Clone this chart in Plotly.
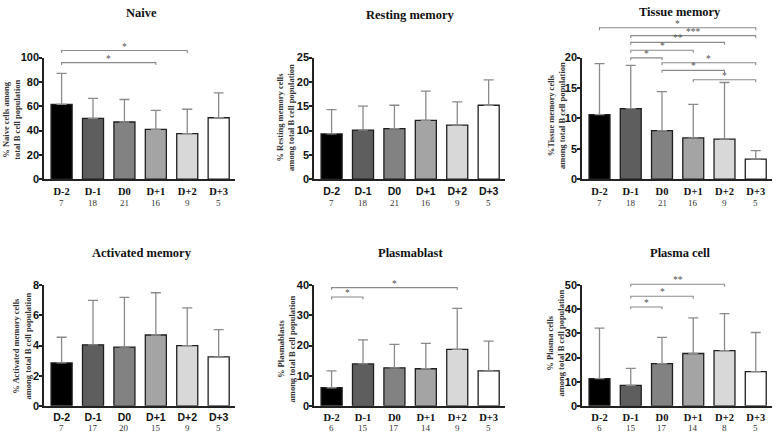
import plotly.graph_objects as go

# ---------------- data ----------------
categories = ["D-2", "D-1", "D0", "D+1", "D+2", "D+3"]

naive_mean = [61.5, 50.0, 47.0, 41.0, 37.5, 50.5]
naive_sd = [25.5, 16.5, 18.5, 15.5, 20.0, 20.5]
naive_n = [7, 18, 21, 16, 9, 5]

resting_mean = [9.3, 10.1, 10.4, 12.1, 11.1, 15.2]
resting_sd = [5.0, 4.9, 4.8, 6.0, 4.8, 5.2]
resting_n = [7, 18, 21, 16, 9, 5]

tissue_mean = [10.6, 11.6, 8.0, 6.8, 6.6, 3.3]
tissue_sd = [8.4, 7.1, 6.4, 5.5, 9.3, 1.4]
tissue_n = [7, 18, 21, 16, 9, 5]

activated_mean = [2.85, 4.05, 3.9, 4.7, 4.0, 3.25]
activated_sd = [1.7, 2.95, 3.3, 2.8, 2.5, 1.8]
activated_n = [7, 17, 20, 15, 9, 5]

plasmablast_mean = [6.0, 13.9, 12.6, 12.3, 18.7, 11.6]
plasmablast_sd = [5.6, 8.0, 7.8, 8.4, 13.6, 9.9]
plasmablast_n = [6, 15, 17, 14, 9, 5]

plasma_mean = [11.3, 8.5, 17.5, 21.7, 22.9, 14.2]
plasma_sd = [20.9, 7.0, 10.9, 14.8, 15.3, 16.2]
plasma_n = [6, 15, 17, 14, 8, 5]

# significance comparisons: (group a, group b, label)
naive_sig = [(0, 3, "*"), (0, 4, "*")]
tissue_sig = [(0, 5, "*"), (1, 5, "***"), (1, 4, "**"), (1, 3, "*"),
              (1, 2, "*"), (2, 5, "*"), (2, 4, "*"), (3, 5, "*")]
plasmablast_sig = [(0, 4, "*"), (0, 1, "*")]
plasma_sig = [(1, 4, "**"), (1, 3, "*"), (1, 2, "*")]

# ---------------- styling / layout config ----------------
bar_colors = ["#000000", "#5e5e5e", "#828282", "#a4a4a4", "#d8d8d8", "#ffffff"]
W, H = 778, 443
SERIF = "Liberation Serif"
SANS = "Liberation Sans"

cols = [(44, 235), (314, 505), (582, 772)]
rows = [(53, 178), (287, 411)]

panels = [
    dict(title="Naive", ytitle="% Naive cells among<br>total B cell population",
         mean=naive_mean, sd=naive_sd, n=naive_n, ymax=100, dtick=20,
         sig=naive_sig, levels=[95.8, 105.8], xfont=SERIF,
         title_pos=(141, 7), ytitle_pos=(12, 117)),
    dict(title="Resting memory", ytitle="% Resting memory cells<br>among total B cell population",
         mean=resting_mean, sd=resting_sd, n=resting_n, ymax=25, dtick=5,
         sig=[], levels=[], xfont=SANS,
         title_pos=(410, 9), ytitle_pos=(286, 115)),
    dict(title="Tissue memory", ytitle="%Tissue memory cells<br>among total B cell population",
         mean=tissue_mean, sd=tissue_sd, n=tissue_n, ymax=20, dtick=5,
         sig=tissue_sig, levels=[24.9, 23.6, 22.5, 21.2, 19.95, 19.15, 17.9, 16.35],
         xfont=SERIF, title_pos=(680, 6), ytitle_pos=(557, 113)),
    dict(title="Activated memory", ytitle="% Activated memory cells<br>among total B cell population",
         mean=activated_mean, sd=activated_sd, n=activated_n, ymax=8, dtick=2,
         sig=[], levels=[], xfont=SANS,
         title_pos=(142, 254), ytitle_pos=(22, 350)),
    dict(title="Plasmablast", ytitle="% Plasmablasts<br>among total B cell population",
         mean=plasmablast_mean, sd=plasmablast_sd, n=plasmablast_n, ymax=40, dtick=10,
         sig=plasmablast_sig, levels=[39.2, 36.1], xfont=SERIF,
         title_pos=(410, 254), ytitle_pos=(286, 353)),
    dict(title="Plasma cell", ytitle="% Plasma cells<br>among total B cell population",
         mean=plasma_mean, sd=plasma_sd, n=plasma_n, ymax=50, dtick=10,
         sig=plasma_sig, levels=[50.4, 45.4, 41.0], xfont=SERIF,
         title_pos=(680, 254), ytitle_pos=(556, 347)),
]

fig = go.Figure()
shapes = []
annotations = []
layout_axes = {}
xpos = list(range(len(categories)))

for k, p in enumerate(panels):
    idx = k + 1
    sfx = "" if idx == 1 else str(idx)
    r, c = divmod(k, 3)
    x0, x1 = cols[c]
    ytop, ybot = rows[r]
    xdom = [x0 / W, x1 / W]
    ydom = [1 - ybot / H, 1 - ytop / H]

    fig.add_trace(go.Bar(
        x=xpos, y=p["mean"], width=0.67,
        marker=dict(color=bar_colors, line=dict(color="#1e1e1e", width=1.3)),
        error_y=dict(type="data", array=p["sd"], arrayminus=[0] * 6, symmetric=False,
                     color="#8a8a8a", thickness=1.3, width=5),
        xaxis="x" + sfx, yaxis="y" + sfx, showlegend=False, hoverinfo="y",
    ))

    layout_axes["xaxis" + sfx] = dict(
        domain=xdom, anchor="y" + sfx, range=[-0.56, 5.52],
        tickmode="array", tickvals=xpos, ticktext=categories,
        showline=True, linecolor="#222", linewidth=1.5, ticks="",
        showgrid=False, zeroline=False, ticklabelstandoff=1,
        tickfont=dict(family=p["xfont"], size=10.5, color="#111", weight="bold"),
    )
    layout_axes["yaxis" + sfx] = dict(
        domain=ydom, anchor="x" + sfx, range=[0, p["ymax"]],
        tickmode="linear", tick0=0, dtick=p["dtick"],
        showline=True, linecolor="#222", linewidth=1.5, ticks="outside",
        ticklen=3, tickwidth=1.5, tickcolor="#222", ticklabelstandoff=-2,
        showgrid=False, zeroline=False,
        tickfont=dict(family=SANS, size=11, color="#111", weight="bold"),
    )

    # n labels
    ny = 202 if r == 0 else 434
    for i, nv in enumerate(p["n"]):
        annotations.append(dict(
            x=i, xref="x" + sfx, y=1 - ny / H, yref="paper", text=str(nv),
            showarrow=False, xanchor="center", yanchor="middle",
            font=dict(family=SERIF, size=9, color="#333")))

    # title
    tx, ty = p["title_pos"]
    annotations.append(dict(
        x=tx / W, y=1 - ty / H, xref="paper", yref="paper", text=p["title"],
        showarrow=False, xanchor="center", yanchor="middle",
        font=dict(family=SERIF, size=12.5, color="#111", weight="bold")))

    # y-axis title
    ax_, ay_ = p["ytitle_pos"]
    annotations.append(dict(
        x=ax_ / W, y=1 - ay_ / H, xref="paper", yref="paper", text=p["ytitle"],
        showarrow=False, xanchor="center", yanchor="middle", textangle=-90,
        font=dict(family=SERIF, size=8.5, color="#333", weight="bold")))

    # significance brackets
    for (a, b, lab), lev in zip(p["sig"], p["levels"]):
        yp = ydom[0] + lev / p["ymax"] * (ydom[1] - ydom[0])
        tip = 2.5 / H
        shapes.append(dict(
            type="path", xref="x" + sfx, yref="paper",
            path=f"M {a},{yp - tip} L {a},{yp} L {b},{yp} L {b},{yp - tip}",
            line=dict(color="#8a8a8a", width=1.1)))
        annotations.append(dict(
            x=(a + b) / 2, xref="x" + sfx, y=yp, yref="paper", text=lab,
            showarrow=False, xanchor="center", yanchor="bottom", yshift=-3,
            font=dict(family=SERIF, size=9.5, color="#555")))

fig.update_layout(
    width=W, height=H, margin=dict(l=0, r=0, t=0, b=0),
    paper_bgcolor="white", plot_bgcolor="white",
    shapes=shapes, annotations=annotations, bargap=0.3,
    **layout_axes,
)

fig.write_html(
    "out.html",
    config={"displayModeBar": False},
    post_script="document.body.style.margin='0';document.body.style.overflow='hidden';",
)
